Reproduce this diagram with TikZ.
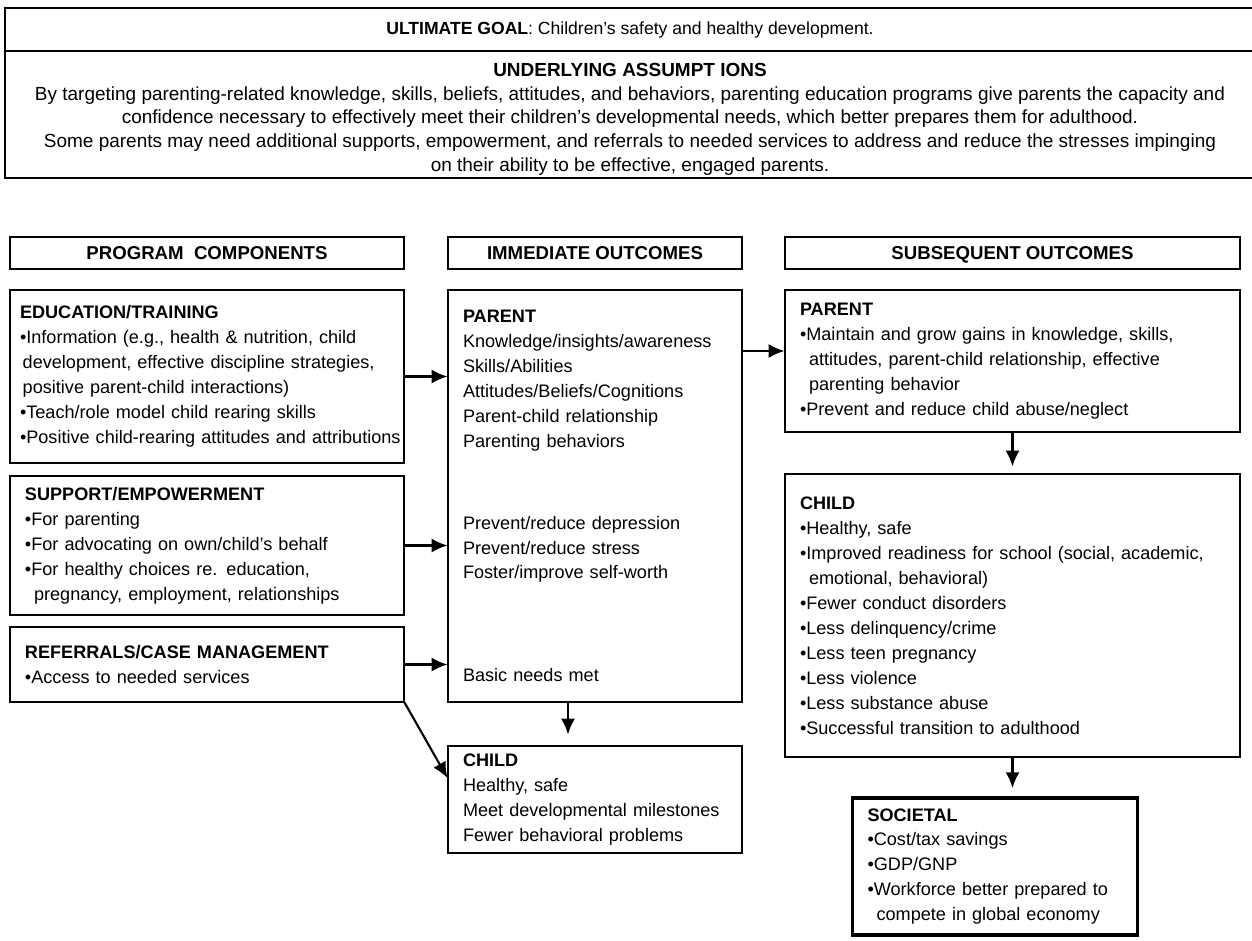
\documentclass[tikz,border=0pt]{standalone}
\usepackage{fontspec}
\setmainfont{Liberation Sans}
\usetikzlibrary{%
  arrows.meta,%
  positioning,%
  calc%
}
\newcommand{\ind}{\hspace*{0.5em}}

\begin{document}
\begin{tikzpicture}[
  font=\fontsize{10.3}{14.2}\selectfont, >={Latex[length=9pt,width=8pt]},
  topbox/.style={rectangle, draw=black, line width=1.2pt, minimum width=25cm, align=center, inner sep=0pt},
  headbox/.style={rectangle, draw=black, line width=0.6pt, minimum height=0.64cm, text height=8pt, text depth=1pt, font=\fontsize{10.6}{14.2}\selectfont\bfseries, inner sep=0pt},
  box/.style={rectangle, draw=black, line width=0.6pt, align=left, inner xsep=0.3cm, inner ysep=0pt},
  arr/.style={->, line width=1.2pt}
]
\useasboundingbox (0,0) rectangle (25.04,-18.8);

% goal and assumptions
\node[topbox, minimum height=0.86cm, font=\fontsize{10}{13.4}\selectfont] (goal) at (12.6,-0.59) {\textbf{ULTIMATE GOAL}: Children’s safety and healthy development.};
\node[topbox, minimum height=2.54cm, font=\fontsize{10.8}{13.4}\selectfont] (assum) at (12.6,-2.29) {%
  \rule{0pt}{13pt}\textbf{UNDERLYING ASSUMPT IONS}\\
  By targeting parenting-related knowledge, skills, beliefs, attitudes, and behaviors, parenting education programs give parents the capacity and\\
  confidence necessary to effectively meet their children’s developmental needs, which better prepares them for adulthood.\\
  Some parents may need additional supports, empowerment, and referrals to needed services to address and reduce the stresses impinging\\
  on their ability to be effective, engaged parents.};

% column headers
\node[headbox, minimum width=7.88cm] (hprog) at (4.14,-5.06) {PROGRAM\ \ COMPONENTS};
\node[headbox, minimum width=5.88cm] (himm) at (11.9,-5.06) {IMMEDIATE OUTCOMES};
\node[headbox, minimum width=9.1cm] (hsub) at (20.25,-5.06) {SUBSEQUENT OUTCOMES};

% program components
\node[box, inner xsep=0.2cm, text width=7.48cm, minimum height=3.46cm] (edu) at (4.14,-7.53) {%
  \textbf{EDUCATION/TRAINING}\\
  •Information (e.g., health \& nutrition, child\\
  \hspace*{0.15em}development, effective discipline strategies,\\
  \hspace*{0.15em}positive parent-child interactions)\\
  •Teach/role model child rearing skills\\
  \mbox{•Positive child-rearing attitudes and attributions}};
\node[box, text width=7.28cm, minimum height=2.78cm] (supp) at (4.14,-10.91) {%
  \textbf{SUPPORT/EMPOWERMENT}\\
  •For parenting\\
  •For advocating on own/child’s behalf\\
  •For healthy choices re. education,\\
  \ind pregnancy, employment, relationships};
\node[box, text width=7.28cm, minimum height=1.5cm] (refer) at (4.14,-13.29) {%
  \textbf{REFERRALS/CASE MANAGEMENT}\\
  •Access to needed services};

% immediate outcomes
\node[box, text width=5.28cm, minimum height=8.24cm] (imparent) at (11.9,-9.92) {%
  \textbf{PARENT}\\
  Knowledge/insights/awareness\\
  Skills/Abilities\\
  Attitudes/Beliefs/Cognitions\\
  Parent-child relationship\\
  Parenting behaviors\\[1.13cm]
  Prevent/reduce depression\\
  Prevent/reduce stress\\
  Foster/improve self-worth\\[1.55cm]
  Basic needs met};
\node[box, text width=5.28cm, minimum height=2.14cm] (imchild) at (11.9,-15.99) {%
  \textbf{CHILD}\\
  Healthy, safe\\
  Meet developmental milestones\\
  Fewer behavioral problems};

% subsequent outcomes
\node[box, text width=8.5cm, minimum height=2.84cm] (subparent) at (20.25,-7.22) {%
  \textbf{PARENT}\\
  •Maintain and grow gains in knowledge, skills,\\
  \ind attitudes, parent-child relationship, effective\\
  \ind parenting behavior\\
  •Prevent and reduce child abuse/neglect};
\node[box, text width=8.5cm, minimum height=5.66cm] (subchild) at (20.25,-12.31) {%
  \textbf{CHILD}\\
  •Healthy, safe\\
  •Improved readiness for school (social, academic,\\
  \ind emotional, behavioral)\\
  •Fewer conduct disorders\\
  •Less delinquency/crime\\
  •Less teen pregnancy\\
  •Less violence\\
  •Less substance abuse\\
  •Successful transition to adulthood};
\node[box, line width=2.2pt, text width=5.1cm, minimum height=2.74cm] (soc) at (19.9,-17.33) {%
  \textbf{SOCIETAL}\\
  •Cost/tax savings\\
  •GDP/GNP\\
  •Workforce better prepared to\\
  \ind compete in global economy};

% connectors
\draw[arr] (edu.east) -- (edu.east -| imparent.west);
\draw[arr] (supp.east) -- (supp.east -| imparent.west);
\draw[arr] (refer.east) -- (refer.east -| imparent.west);
\draw[arr] (refer.south east) -- ([yshift=0.43cm]imchild.west);
\draw[arr, shorten >=0.22cm] ([xshift=-0.54cm]imparent.south) -- ([xshift=-0.54cm]imchild.north);
\draw[arr] ([yshift=0.2cm]subparent.west -| imparent.east) -- ([yshift=0.2cm]subparent.west);
\draw[arr, shorten >=0.14cm] (subparent.south) -- (subchild.north);
\draw[arr, shorten >=0.16cm] (subchild.south) -- (subchild.south |- soc.north);
\end{tikzpicture}
\end{document}
